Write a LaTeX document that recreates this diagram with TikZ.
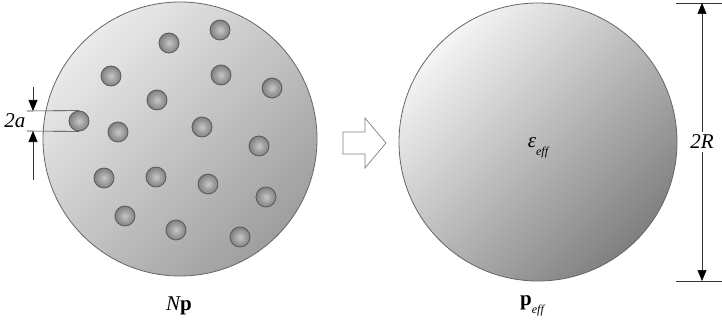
\documentclass[tikz,border=0pt]{standalone}
\usepackage{fontspec}
\setmainfont{Liberation Serif}
\usetikzlibrary{arrows.meta}
\begin{document}
\begin{tikzpicture}[x=1pt,y=-1pt,
  bigdisk/.style={circle, draw=black!60, line width=0.8pt, inner sep=0pt},
  leftshade/.style={top color=black!8, bottom color=black!38, shading angle=45},
  rightshade/.style={top color=black!4, bottom color=black!50, shading angle=45},
  ball/.style={circle, draw=black!65, line width=0.8pt, inner sep=0pt, minimum size=20pt,
    inner color=black!22, outer color=black!50},
  dimline/.style={draw=black!80, line width=0.6pt},
  dimarrow/.style={dimline, -{Triangle[length=11pt,width=9pt,color=black]}},
  lbl/.style={font=\fontsize{21}{25}\selectfont, inner sep=0pt}
]
\useasboundingbox (0,0) rectangle (722,326);
% left disk with inclusions
\node[bigdisk, leftshade, minimum size=274pt] (L) at (180,139) {};
\foreach \n/\x/\y in {1/220/30, 2/169/43, 3/111/76, 4/221/75, 5/272/88, 6/157/100,
  7/79/121, 8/118/132, 9/202/127, 10/259/146, 11/104/178, 12/156/177,
  13/208/184, 14/266/197, 15/125/216, 16/176/230, 17/240/237}
  \node[ball] (b\n) at (\x,\y) {};
% 2a dimension
\coordinate (ta) at (27,111);
\coordinate (ba) at (27,131);
\draw[dimline] (ta) -- (b7.north);
\draw[dimline] (ba) -- (b7.south);
\coordinate (a1) at (33,87);
\coordinate (a2) at (33,111);
\coordinate (a3) at (33,180);
\coordinate (a4) at (33,131);
\draw[dimarrow] (a1) -- (a2);
\draw[dimarrow] (a3) -- (a4);
\node[lbl, font=\fontsize{21}{25}\selectfont\itshape] (t2a) at (15,121) {2a};
% hollow arrow
\draw[draw=black!50, fill=white, line width=0.7pt]
  (343,132) -- (365,132) -- (365,118) -- (386,143) -- (365,168) -- (365,154) -- (343,154) -- cycle;
% right disk
\node[bigdisk, rightshade, minimum size=278pt] (R) at (538,142) {};
\node[lbl] (eps) at (538,148) {\itshape ε\raisebox{-0.35em}{\fontsize{12}{14}\selectfont eff}};
% 2R dimension
\coordinate (e1) at (676,3);
\coordinate (e2) at (722,3);
\coordinate (e3) at (676,281);
\coordinate (e4) at (722,281);
\draw[dimline] (e1) -- (e2);
\draw[dimline] (e3) -- (e4);
\node[lbl, font=\fontsize{21}{25}\selectfont\itshape] (t2R) at (702,142) {2R};
\coordinate (r1) at (702,3);
\coordinate (r2) at (702,281);
\draw[dimarrow] (t2R.north) ++(0,-3) -- (r1);
\draw[dimarrow] (t2R.south) ++(0,3) -- (r2);
% labels
\node[lbl] (Np) at (179,306) {\itshape N\upshape\bfseries p};
\node[lbl] (peff) at (532,306) {\bfseries p\mdseries\itshape\raisebox{-0.35em}{\fontsize{12}{14}\selectfont eff}};
\end{tikzpicture}
\end{document}
